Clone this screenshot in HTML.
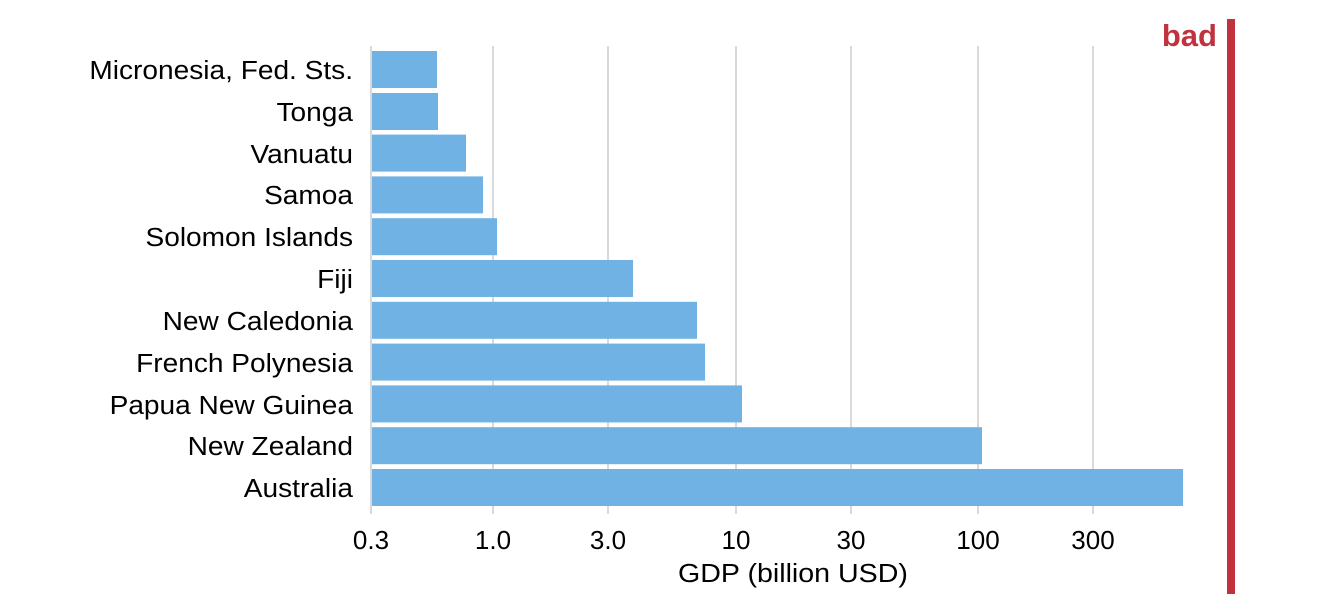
<!DOCTYPE html>
<html><head><meta charset="utf-8"><style>
html,body{margin:0;padding:0;background:#fff;}
svg{display:block;font-family:"Liberation Sans",sans-serif;}
</style></head><body>
<svg width="1324" height="614" viewBox="0 0 1324 614" xmlns="http://www.w3.org/2000/svg">
<g stroke="#d9d9d9" stroke-width="2">
<line x1="371" y1="46" x2="371" y2="514"/>
<line x1="493" y1="46" x2="493" y2="514"/>
<line x1="608" y1="46" x2="608" y2="514"/>
<line x1="736" y1="46" x2="736" y2="514"/>
<line x1="851" y1="46" x2="851" y2="514"/>
<line x1="978" y1="46" x2="978" y2="514"/>
<line x1="1093" y1="46" x2="1093" y2="514"/>
</g>
<g fill="#6fb2e3">
<rect x="372" y="51" width="65" height="37"/>
<rect x="372" y="93" width="66" height="37"/>
<rect x="372" y="134.6" width="94" height="37"/>
<rect x="372" y="176.4" width="111" height="37"/>
<rect x="372" y="218.2" width="125" height="37"/>
<rect x="372" y="260" width="261" height="37"/>
<rect x="372" y="301.8" width="325" height="37"/>
<rect x="372" y="343.6" width="333" height="37"/>
<rect x="372" y="385.4" width="370" height="37"/>
<rect x="372" y="427.2" width="610" height="37"/>
<rect x="372" y="469" width="811" height="37"/>
</g>
<g font-size="26" fill="#000" text-anchor="end" transform="translate(353,0) scale(1.08,1)">
<text x="0" y="79">Micronesia, Fed. Sts.</text>
<text x="0" y="121">Tonga</text>
<text x="0" y="163">Vanuatu</text>
<text x="0" y="204">Samoa</text>
<text x="0" y="246">Solomon Islands</text>
<text x="0" y="288">Fiji</text>
<text x="0" y="330">New Caledonia</text>
<text x="0" y="372">French Polynesia</text>
<text x="0" y="414">Papua New Guinea</text>
<text x="0" y="455">New Zealand</text>
<text x="0" y="497">Australia</text>
</g>
<g font-size="26" fill="#000" text-anchor="middle">
<text x="371" y="549">0.3</text>
<text x="493" y="549">1.0</text>
<text x="608" y="549">3.0</text>
<text x="736" y="549">10</text>
<text x="851" y="549">30</text>
<text x="978" y="549">100</text>
<text x="1093" y="549">300</text>
<text x="793" y="582" transform="translate(793,0) scale(1.1,1) translate(-793,0)">GDP (billion USD)</text>
</g>
<rect x="1227" y="19" width="8" height="575" fill="#c0323d"/>
<text x="1217" y="46" font-size="31" font-weight="bold" fill="#c0323d" text-anchor="end">bad</text>
</svg>
</body></html>
